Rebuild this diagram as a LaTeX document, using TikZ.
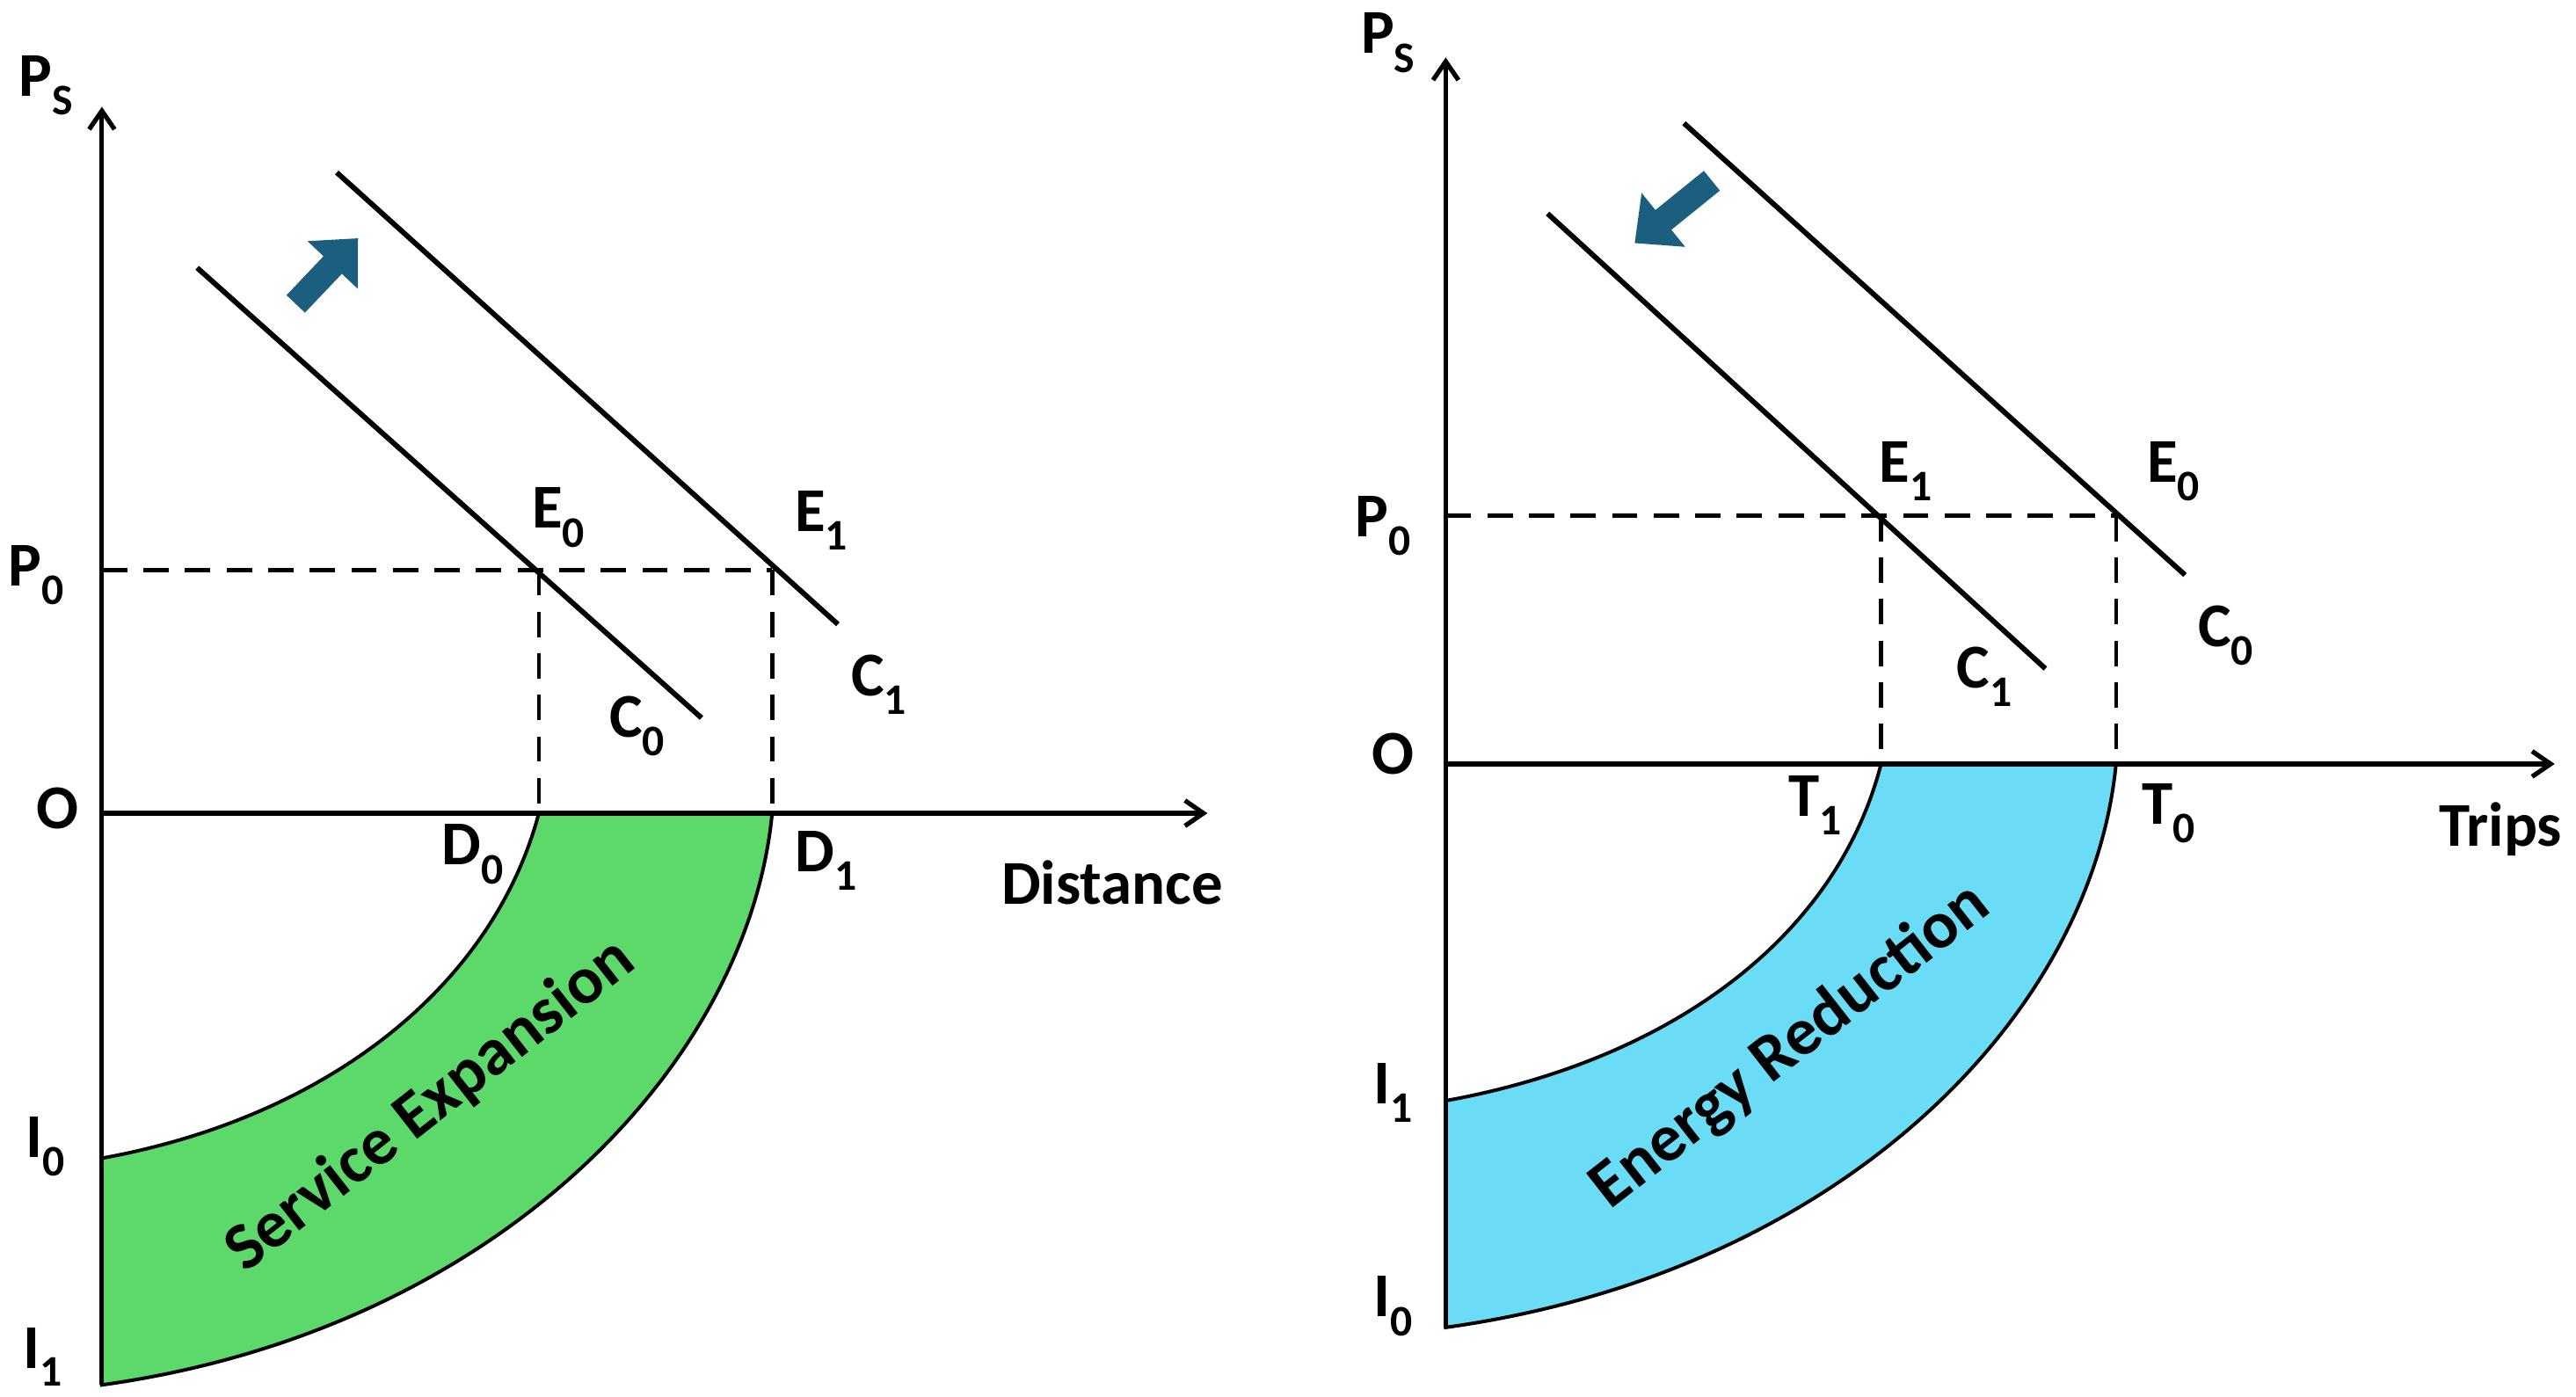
\documentclass[tikz,border=0pt]{standalone}
\usepackage{fontspec}
\setmainfont{Carlito}
\usetikzlibrary{arrows.meta}
\definecolor{gband}{HTML}{5DD86A}
\definecolor{bband}{HTML}{6ADCF5}
\definecolor{teal}{HTML}{1B5E7E}
\begin{document}
\begin{tikzpicture}[x=0.05cm,y=-0.05cm,
 lbl/.style={font=\fontsize{54}{60}\selectfont\bfseries,inner sep=0pt},
 blbl/.style={font=\fontsize{58}{64}\selectfont\bfseries,inner sep=0pt,rotate=38},
 ax/.style={line width=4pt,-{Straight Barb[length=16pt,width=22pt,line width=4pt]}},
 ln/.style={line width=4.5pt},
 dsh/.style={line width=3.5pt,dash pattern=on 22pt off 14pt},
 sh/.style={line width=22pt,-{Triangle[length=32pt,width=58pt]},teal}]
\useasboundingbox (0,0) rectangle (1568,850);
% left panel
\fill[gband,draw=black,line width=3pt] (470,495) .. controls (455,650) and (300,810) .. (62,843) -- (62,705) .. controls (200,680) and (300,600) .. (328,495) -- cycle;
\draw[ax] (62,843) -- (62,65);
\draw[ax] (62,495) -- (735,495);
\draw[ln] (120,163) -- (427,437);
\draw[ln] (205,105) -- (510,380);
\draw[dsh] (62,347) -- (470,347);
\draw[dsh] (328,347) -- (328,495);
\draw[dsh] (470,347) -- (470,495);
\draw[sh] (180,185) -- (218,145);
\node[lbl] (ps1) at (28,52) {P\textsubscript{S}};
\node[lbl] (p01) at (22,350) {P\textsubscript{0}};
\node[lbl] (o1) at (35,492) {O};
\node[lbl] (i01) at (28,698) {I\textsubscript{0}};
\node[lbl] (i11) at (26,826) {I\textsubscript{1}};
\node[lbl] (e01) at (340,315) {E\textsubscript{0}};
\node[lbl] (e11) at (500,317) {E\textsubscript{1}};
\node[lbl] (c01) at (388,442) {C\textsubscript{0}};
\node[lbl] (c11) at (535,417) {C\textsubscript{1}};
\node[lbl] (d01) at (288,520) {D\textsubscript{0}};
\node[lbl] (d11) at (503,524) {D\textsubscript{1}};
\node[lbl] (dist) at (677,537) {Distance};
\node[blbl] (se) at (262,673) {Service Expansion};
% right panel
\fill[bband,draw=black,line width=3pt] (1288,465) .. controls (1273,620) and (1118,775) .. (880,808) -- (880,670) .. controls (1018,645) and (1118,570) .. (1145,465) -- cycle;
\draw[ax] (880,808) -- (880,35);
\draw[ax] (880,465) -- (1555,465);
\draw[ln] (942,130) -- (1245,407);
\draw[ln] (1025,75) -- (1330,350);
\draw[dsh] (880,314) -- (1288,314);
\draw[dsh] (1145,314) -- (1145,465);
\draw[dsh] (1288,314) -- (1288,465);
\draw[sh] (1042,110) -- (995,148);
\node[lbl] (ps2) at (845,26) {P\textsubscript{S}};
\node[lbl] (p02) at (842,320) {P\textsubscript{0}};
\node[lbl] (o2) at (848,459) {O};
\node[lbl] (i12) at (848,665) {I\textsubscript{1}};
\node[lbl] (i02) at (848,795) {I\textsubscript{0}};
\node[lbl] (e12) at (1160,287) {E\textsubscript{1}};
\node[lbl] (e02) at (1323,287) {E\textsubscript{0}};
\node[lbl] (c12) at (1208,412) {C\textsubscript{1}};
\node[lbl] (c02) at (1355,387) {C\textsubscript{0}};
\node[lbl] (t1) at (1105,490) {T\textsubscript{1}};
\node[lbl] (t0) at (1320,495) {T\textsubscript{0}};
\node[lbl] (trips) at (1522,505) {Trips};
\node[blbl] (er) at (1090,637) {Energy Reduction};
\end{tikzpicture}
\end{document}
